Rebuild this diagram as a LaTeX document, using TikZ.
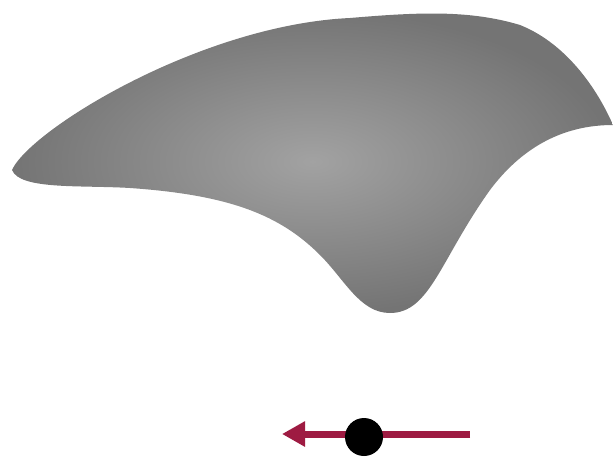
\documentclass[tikz,border=0pt]{standalone}
\usetikzlibrary{arrows.meta}
\definecolor{maroon}{RGB}{158,27,66}
\definecolor{blobin}{RGB}{162,162,162}
\definecolor{blobout}{RGB}{116,116,116}
\tikzset{
  blob/.style={inner color=blobin, outer color=blobout},
  force/.style={draw=maroon, line width=7pt, -{Triangle[length=23pt,width=24pt]}},
  particle/.style={circle, fill=black, minimum size=38pt, inner sep=0pt}
}
\begin{document}
\begin{tikzpicture}[x=1pt,y=-1pt]
\useasboundingbox (0,0) rectangle (613,458);
\shade[blob] (12,170) .. controls (30,130) and (200,25) .. (350,18)
  .. controls (420,12) and (470,10) .. (520,25)
  .. controls (570,45) and (600,95) .. (613,125)
  .. controls (560,125) and (520,150) .. (490,190)
  .. controls (440,260) and (430,313) .. (390,313)
  .. controls (360,313) and (345,280) .. (320,255)
  .. controls (280,215) and (230,195) .. (130,188)
  .. controls (80,185) and (20,190) .. (12,170) -- cycle;
\coordinate (s) at (470,434);
\coordinate (t) at (282,434);
\draw[force] (s) -- (t);
\node[particle] (dot) at (364,437) {};
\end{tikzpicture}
\end{document}
